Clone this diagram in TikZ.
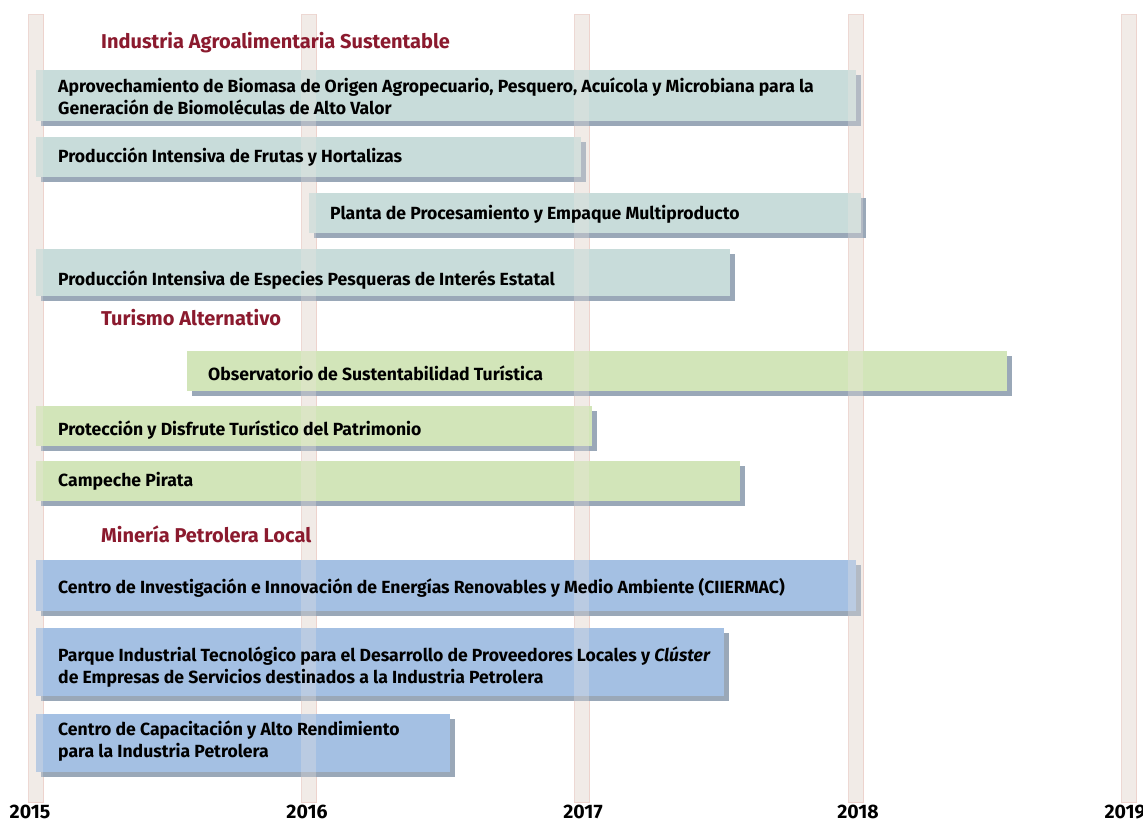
\documentclass[tikz,border=0pt]{standalone}
\usepackage{fontspec}
\setmainfont{Fira Sans}
\usetikzlibrary{shadows}
\definecolor{barteal}{HTML}{C8DCDA}
\definecolor{bargreen}{HTML}{D2E5B9}
\definecolor{barblue}{HTML}{A4C0E3}
\definecolor{shadowc}{HTML}{9AA8B8}
\definecolor{titlered}{HTML}{8B1A2E}
\definecolor{stripefill}{HTML}{F2EEEA}
\definecolor{stripeline}{HTML}{EDD3CD}
\tikzset{
  stripebox/.style={fill=stripefill, draw=stripeline, line width=0.6pt},
  stripeover/.style={fill=stripefill!70!stripeline, fill opacity=0.3, draw=none},
  barbox/.style={fill=#1, draw=none, anchor=north west, inner sep=0pt,
    drop shadow={shadow xshift=5pt, shadow yshift=-5pt, fill=shadowc, opacity=1}},
  bartext/.style={anchor=west, inner sep=0pt, font=\fontsize{17.6}{21.5}\selectfont\bfseries, align=left, text=black},
  grouptitle/.style={anchor=west, inner sep=0pt, font=\fontsize{20}{24}\selectfont\bfseries, text=titlered},
  yearlabel/.style={inner sep=0pt, font=\fontsize{19.5}{22}\selectfont\bfseries, text=black}
}
\begin{document}
\begin{tikzpicture}[x=1pt,y=-1pt]
\useasboundingbox[fill=white] (0,0) rectangle (1143,822);
% year stripes
\foreach \xx in {28,301,574,848,1121}{
  \path[stripebox] (\xx,14) rectangle ++(15,788);
}
% bars
\node[barbox=barteal, minimum width=820pt, minimum height=51pt] (b1) at (36,70) {};
\node[barbox=barteal, minimum width=545pt, minimum height=40pt] (b2) at (36,137) {};
\node[barbox=barteal, minimum width=552pt, minimum height=40pt] (b3) at (309,193) {};
\node[barbox=barteal, minimum width=694pt, minimum height=47pt] (b4) at (36,249) {};
\node[barbox=bargreen, minimum width=820pt, minimum height=40pt] (b5) at (187,351) {};
\node[barbox=bargreen, minimum width=556pt, minimum height=40pt] (b6) at (36,406) {};
\node[barbox=bargreen, minimum width=704pt, minimum height=40pt] (b7) at (36,461) {};
\node[barbox=barblue, minimum width=820pt, minimum height=51pt] (b8) at (36,560) {};
\node[barbox=barblue, minimum width=688pt, minimum height=68pt] (b9) at (36,628) {};
\node[barbox=barblue, minimum width=414pt, minimum height=58pt] (b10) at (36,714) {};
% stripes showing through bars
\foreach \xx in {28,301,574,848,1121}{
  \path[stripeover] (\xx,14) rectangle ++(15,788);
}
% group titles
\node[grouptitle] (g1) at (101,43) {Industria Agroalimentaria Sustentable};
\node[grouptitle] (g2) at (101,318) {Turismo Alternativo};
\node[grouptitle] (g3) at (101,534) {Minería Petrolera Local};
% bar texts
\node[bartext] (t1) at (58,96.5) {Aprovechamiento de Biomasa de Origen Agropecuario, Pesquero, Acuícola y Microbiana para la\\Generación de Biomoléculas de Alto Valor};
\node[bartext] (t2) at (58,157) {Producción Intensiva de Frutas y Hortalizas};
\node[bartext] (t3) at (330,214) {Planta de Procesamiento y Empaque Multiproducto};
\node[bartext] (t4) at (58,280) {Producción Intensiva de Especies Pesqueras de Interés Estatal};
\node[bartext] (t5) at (208,373) {Observatorio de Sustentabilidad Turística};
\node[bartext] (t6) at (58,430) {Protección y Disfrute Turístico del Patrimonio};
\node[bartext] (t7) at (58,481) {Campeche Pirata};
\node[bartext] (t8) at (58,588) {Centro de Investigación e Innovación de Energías Renovables y Medio Ambiente (CIIERMAC)};
\node[bartext] (t9) at (58,667) {Parque Industrial Tecnológico para el Desarrollo de Proveedores Locales y \textit{Clúster}\\de Empresas de Servicios destinados a la Industria Petrolera};
\node[bartext] (t10) at (58,741) {Centro de Capacitación y Alto Rendimiento\\para la Industria Petrolera};
% year labels
\node[yearlabel] (y15) at (30,812) {2015};
\node[yearlabel] (y16) at (307,812) {2016};
\node[yearlabel] (y17) at (583,812) {2017};
\node[yearlabel] (y18) at (858,812) {2018};
\node[yearlabel] (y19) at (1125,812) {2019};
\end{tikzpicture}
\end{document}
